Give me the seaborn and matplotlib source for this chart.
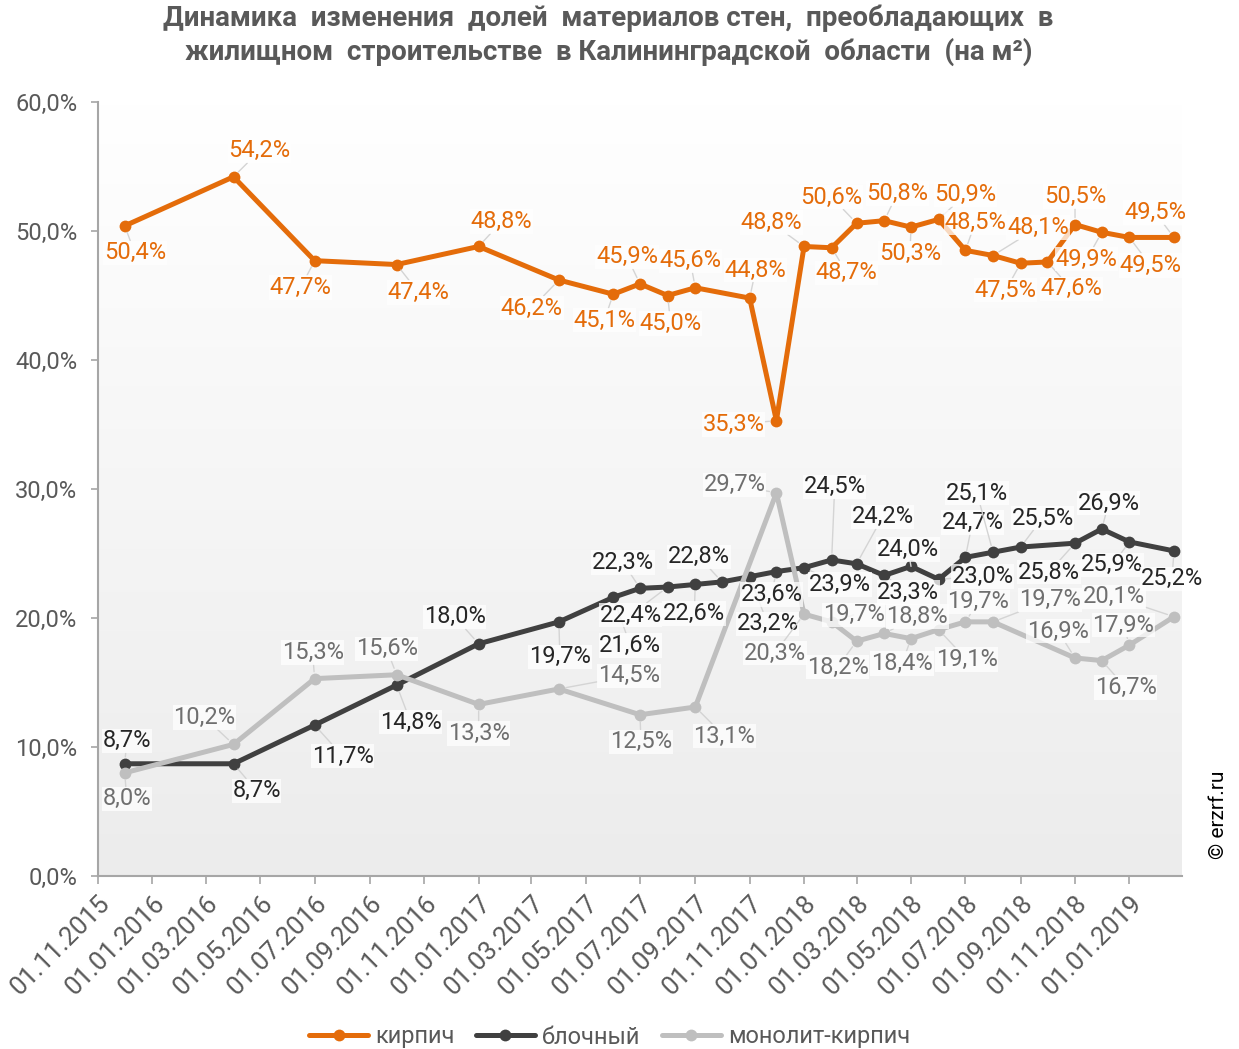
import numpy as np
import pandas as pd
import seaborn as sns
import matplotlib.pyplot as plt
from matplotlib.lines import Line2D
from matplotlib.colors import LinearSegmentedColormap

series_names = ['кирпич', 'блочный', 'монолит-кирпич']
series_colors = ['#E46C0A', '#404040', '#BFBFBF']
label_colors = ['#E46C0A', '#262626', '#6F6F6F']

brick_dates = ['2015-12-01', '2016-04-01', '2016-07-01', '2016-10-01', '2017-01-01', '2017-04-01',
               '2017-06-01', '2017-07-01', '2017-08-01', '2017-09-01', '2017-11-01', '2017-12-01',
               '2018-01-01', '2018-02-01', '2018-03-01', '2018-04-01', '2018-05-01', '2018-06-01',
               '2018-07-01', '2018-08-01', '2018-09-01', '2018-10-01', '2018-11-01', '2018-12-01',
               '2019-01-01', '2019-02-20']
brick_values = [50.4, 54.2, 47.7, 47.4, 48.8, 46.2, 45.1, 45.9, 45.0, 45.6, 44.8, 35.3,
                48.8, 48.7, 50.6, 50.8, 50.3, 50.9, 48.5, 48.1, 47.5, 47.6, 50.5, 49.9,
                49.5, 49.5]

block_dates = ['2015-12-01', '2016-04-01', '2016-07-01', '2016-10-01', '2017-01-01', '2017-04-01',
               '2017-06-01', '2017-07-01', '2017-08-01', '2017-09-01', '2017-10-01', '2017-11-01',
               '2017-12-01', '2018-01-01', '2018-02-01', '2018-03-01', '2018-04-01', '2018-05-01',
               '2018-06-01', '2018-07-01', '2018-08-01', '2018-09-01', '2018-11-01', '2018-12-01',
               '2019-01-01', '2019-02-20']
block_values = [8.7, 8.7, 11.7, 14.8, 18.0, 19.7, 21.6, 22.3, 22.4, 22.6, 22.8, 23.2,
                23.6, 23.9, 24.5, 24.2, 23.3, 24.0, 23.0, 24.7, 25.1, 25.5, 25.8, 26.9,
                25.9, 25.2]

mono_dates = ['2015-12-01', '2016-04-01', '2016-07-01', '2016-10-01', '2017-01-01', '2017-04-01',
              '2017-07-01', '2017-09-01', '2017-12-01', '2018-01-01', '2018-02-01', '2018-03-01',
              '2018-04-01', '2018-05-01', '2018-06-01', '2018-07-01', '2018-08-01', '2018-11-01',
              '2018-12-01', '2019-01-01', '2019-02-20']
mono_values = [8.0, 10.2, 15.3, 15.6, 13.3, 14.5, 12.5, 13.1, 29.7, 20.3, 19.7, 18.2,
               18.8, 18.4, 19.1, 19.7, 19.7, 16.9, 16.7, 17.9, 20.1]

y_ticks = [0, 10, 20, 30, 40, 50, 60]

# label placement (pixels from the point, +y = down)
brick_offsets = [(10, 27), (26, -26), (-14, 27), (22, 28), (23, -25), (-27, 28), (-9, 26), (-13, -27),
                 (3, 28), (-5, -27), (6, -28), (-43, 4), (-33, -24), (15, 25), (-25, -26), (13, -27),
                 (-1, 26), (27, -25), (10, -28), (45, -28), (-15, 27), (24, 27), (0, -28), (-15, 27),
                 (21, 28), (-19, -25)]
block_offsets = [(2, -23), (23, 27), (28, 31), (14, 37), (-24, -27), (1, 35), (17, 48), (-17, -26),
                 (-37, 28), (-1, 29), (-23, -25), (18, 47), (-5, 23), (36, 17), (3, -73), (26, -47),
                 (24, 17), (-3, -17), (44, -3), (7, -35), (-16, -59), (22, -29), (-26, 29), (7, -26),
                 (-17, 23), (-2, 28)]
mono_offsets = [(2, 26), (-29, -27), (-2, -26), (-10, -26), (0, 29), (70, -13), (1, 27), (29, 29),
                (-42, -8), (-29, 39), (22, -7), (-19, 26), (33, -17), (-9, 25), (28, 30), (13, -20),
                (57, -22), (-17, -27), (24, 27), (-6, -20), (-60, -20)]

sns.set_theme(style='white')
plt.rcParams['font.family'] = ['Roboto', 'DejaVu Sans']

frames = []
for name, dates, values in zip(series_names,
                               [brick_dates, block_dates, mono_dates],
                               [brick_values, block_values, mono_values]):
    frames.append(pd.DataFrame({'date': pd.to_datetime(dates), 'value': values, 'series': name}))
df = pd.concat(frames, ignore_index=True)

fig = plt.figure(figsize=(12.39, 10.49), dpi=100)
rect = [98 / 1239, 1 - 876 / 1049, (1182 - 98) / 1239, (876 - 102) / 1049]

# plot area gradient
bg = fig.add_axes(rect, zorder=0)
grad = LinearSegmentedColormap.from_list('g', ['#ffffff', '#ececec'])
bg.imshow(np.linspace(0, 1, 256).reshape(-1, 1), aspect='auto', cmap=grad, extent=[0, 1, 0, 1])
bg.axis('off')

ax = fig.add_axes(rect, zorder=1)
ax.patch.set_alpha(0)

sns.lineplot(data=df, x='date', y='value', hue='series', hue_order=series_names,
             palette=dict(zip(series_names, series_colors)), marker='o', markersize=8.5,
             markeredgewidth=0, linewidth=3.6, legend=False, ax=ax)

for name, dates, values, offs, lc in zip(series_names,
                                          [brick_dates, block_dates, mono_dates],
                                          [brick_values, block_values, mono_values],
                                          [brick_offsets, block_offsets, mono_offsets],
                                          label_colors):
    for d, v, (dx, dy) in zip(pd.to_datetime(dates), values, offs):
        ax.annotate(f'{v:.1f}%'.replace('.', ','), xy=(d, v), xytext=(dx, -dy),
                    textcoords='offset pixels', ha='center', va='center', fontsize=17,
                    color=lc, zorder=5,
                    bbox=dict(boxstyle='square,pad=0.03', fc='white', ec='none', alpha=0.75),
                    arrowprops=dict(arrowstyle='-', color='#d4d4d4', lw=1, shrinkA=0, shrinkB=5))

x_ticks = pd.date_range('2015-11-01', '2019-01-01', freq='2MS')
ax.set_xlim(pd.Timestamp('2015-11-01'), pd.Timestamp('2019-03-01'))
ax.set_xticks(x_ticks)
ax.set_xticklabels([d.strftime('%d.%m.%Y') for d in x_ticks], rotation=45, ha='right',
                   rotation_mode='anchor')
ax.set_ylim(0, 60)
ax.set_yticks(y_ticks)
ax.set_yticklabels([f'{v:.1f}%'.replace('.', ',') for v in y_ticks])
ax.set_xlabel('')
ax.set_ylabel('')

for s in ['top', 'right']:
    ax.spines[s].set_visible(False)
for s in ['left', 'bottom']:
    ax.spines[s].set_color('#a6a6a6')
    ax.spines[s].set_linewidth(1.5)
ax.tick_params(axis='x', bottom=True, direction='out', length=6, width=1.2, color='#a6a6a6',
               labelsize=18.5, labelcolor='#595959', pad=5)
ax.tick_params(axis='y', left=True, direction='out', length=5, width=1.2, color='#a6a6a6',
               labelsize=17, labelcolor='#595959', pad=10)

fig.text(0.491, 1 - 35 / 1049,
         'Динамика  изменения  долей  материалов стен,  преобладающих  в\n'
         'жилищном  строительстве  в Калининградской  области  (на м²)',
         ha='center', va='center', fontsize=20, fontweight='bold', color='#595959',
         linespacing=1.25)

handles = [Line2D([], [], color=c, lw=3.6, marker='o', markersize=8.5, markeredgewidth=0)
           for c in series_colors]
fig.legend(handles, series_names, loc='center', bbox_to_anchor=(0.492, 1 - 1037 / 1049), ncol=3,
           frameon=False, handlelength=2.5, columnspacing=0.9, handletextpad=0.3, fontsize=17,
           labelcolor='#595959')

fig.text(1218 / 1239, 1 - 815 / 1049, '© erzrf.ru', rotation=90, ha='center', va='center',
         fontsize=15, color='black')

fig.savefig('out.png', dpi=100)
